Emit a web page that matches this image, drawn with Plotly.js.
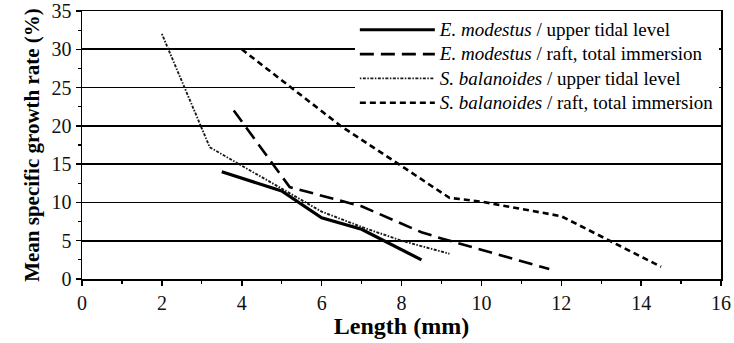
<!DOCTYPE html>
<html>
<head>
<meta charset="utf-8">
<script src="https://cdn.plot.ly/plotly-3.0.1.min.js"></script>
<style>html,body{margin:0;padding:0;background:#fff;}#chart{width:734px;height:343px;}</style>
</head>
<body>
<div id="chart"></div>
<script>
// Series data (length in mm, mean specific growth rate in %)
var emUpperX = [3.5, 5.0, 6.0, 7.0, 8.5];
var emUpperY = [14.0, 11.5, 8.0, 6.5, 2.5];

var emRaftX = [3.8, 5.2, 7.0, 8.5, 9.0, 11.7];
var emRaftY = [22.0, 12.0, 9.5, 6.1, 5.3, 1.3];

var sbUpperX = [2.0, 3.2, 4.2, 5.0, 6.0, 7.0, 8.0, 9.2];
var sbUpperY = [32.0, 17.2, 14.2, 11.8, 8.8, 6.8, 5.0, 3.3];

var sbRaftX = [4.0, 6.5, 7.9, 9.2, 10.0, 12.0, 14.5];
var sbRaftY = [30.0, 19.9, 15.1, 10.6, 10.1, 8.2, 1.6];

var seriesNames = [
  "<i>E. modestus</i> / upper tidal level",
  "<i>E. modestus</i> / raft, total immersion",
  "<i>S. balanoides</i> / upper tidal level",
  "<i>S. balanoides</i> / raft, total immersion"
];
var xTickVals = [0, 2, 4, 6, 8, 10, 12, 14, 16];
var yTickVals = [0, 5, 10, 15, 20, 25, 30, 35];

var serif = "Liberation Serif";

function legendLabel(s) {
  return '<span style="font-size:19px">' + s + '</span>';
}

var traces = [
  {x: emUpperX, y: emUpperY, name: legendLabel(seriesNames[0]), mode: "lines",
   line: {color: "#000", width: 3.2, dash: "solid"}},
  {x: emRaftX, y: emRaftY, name: legendLabel(seriesNames[1]), mode: "lines",
   line: {color: "#000", width: 2.6, dash: "14px,7px"}},
  {x: sbUpperX, y: sbUpperY, name: legendLabel(seriesNames[2]), mode: "lines",
   line: {color: "#1a1a1a", width: 1.9, dash: "1.5px,1.5px,3px,1.5px"}},
  {x: sbRaftX, y: sbRaftY, name: legendLabel(seriesNames[3]), mode: "lines",
   line: {color: "#000", width: 2.6, dash: "6px,4px"}}
];

var layout = {
  width: 734, height: 343,
  margin: {l: 82, r: 13, t: 11, b: 64, pad: 0},
  paper_bgcolor: "#fff", plot_bgcolor: "#fff",
  font: {family: serif, color: "#000"},
  showlegend: true,
  legend: {
    x: 0.427, xanchor: "left", y: 0.994, yanchor: "top",
    bgcolor: "rgba(255,255,255,1)", borderwidth: 0,
    itemwidth: 75,
    font: {family: serif, size: 16.4, color: "#000"},
    tracegroupgap: 0
  },
  xaxis: {
    range: [0, 16], tickvals: xTickVals, ticktext: xTickVals.map(String),
    showgrid: false, zeroline: false,
    showline: true, linecolor: "#000", linewidth: 1.5, mirror: true,
    ticks: "outside", ticklen: 5, tickwidth: 1.5, tickcolor: "#000",
    minor: {dtick: 1, ticks: "outside", ticklen: 3, tickwidth: 1.2, tickcolor: "#000", showgrid: false},
    tickfont: {family: serif, size: 20, color: "#111"},
    title: {text: "<b>Length (mm)</b>", font: {family: serif, size: 24, color: "#000"}, standoff: 4}
  },
  yaxis: {
    range: [0, 35], tickvals: yTickVals, ticktext: yTickVals.map(String),
    showgrid: true, gridcolor: "#000", gridwidth: 1.6, zeroline: false,
    showline: true, linecolor: "#000", linewidth: 1.5, mirror: true,
    ticks: "outside", ticklen: 5, tickwidth: 1.5, tickcolor: "#000",
    minor: {dtick: 2.5, ticks: "outside", ticklen: 3, tickwidth: 1.2, tickcolor: "#000", showgrid: false},
    tickfont: {family: serif, size: 20, color: "#111"},
    title: {text: "<b>Mean specific growth rate (%)</b>", font: {family: serif, size: 21, color: "#000"}, standoff: 6}
  }
};

Plotly.newPlot("chart", traces, layout, {displayModeBar: false, staticPlot: true});
</script>
</body>
</html>
